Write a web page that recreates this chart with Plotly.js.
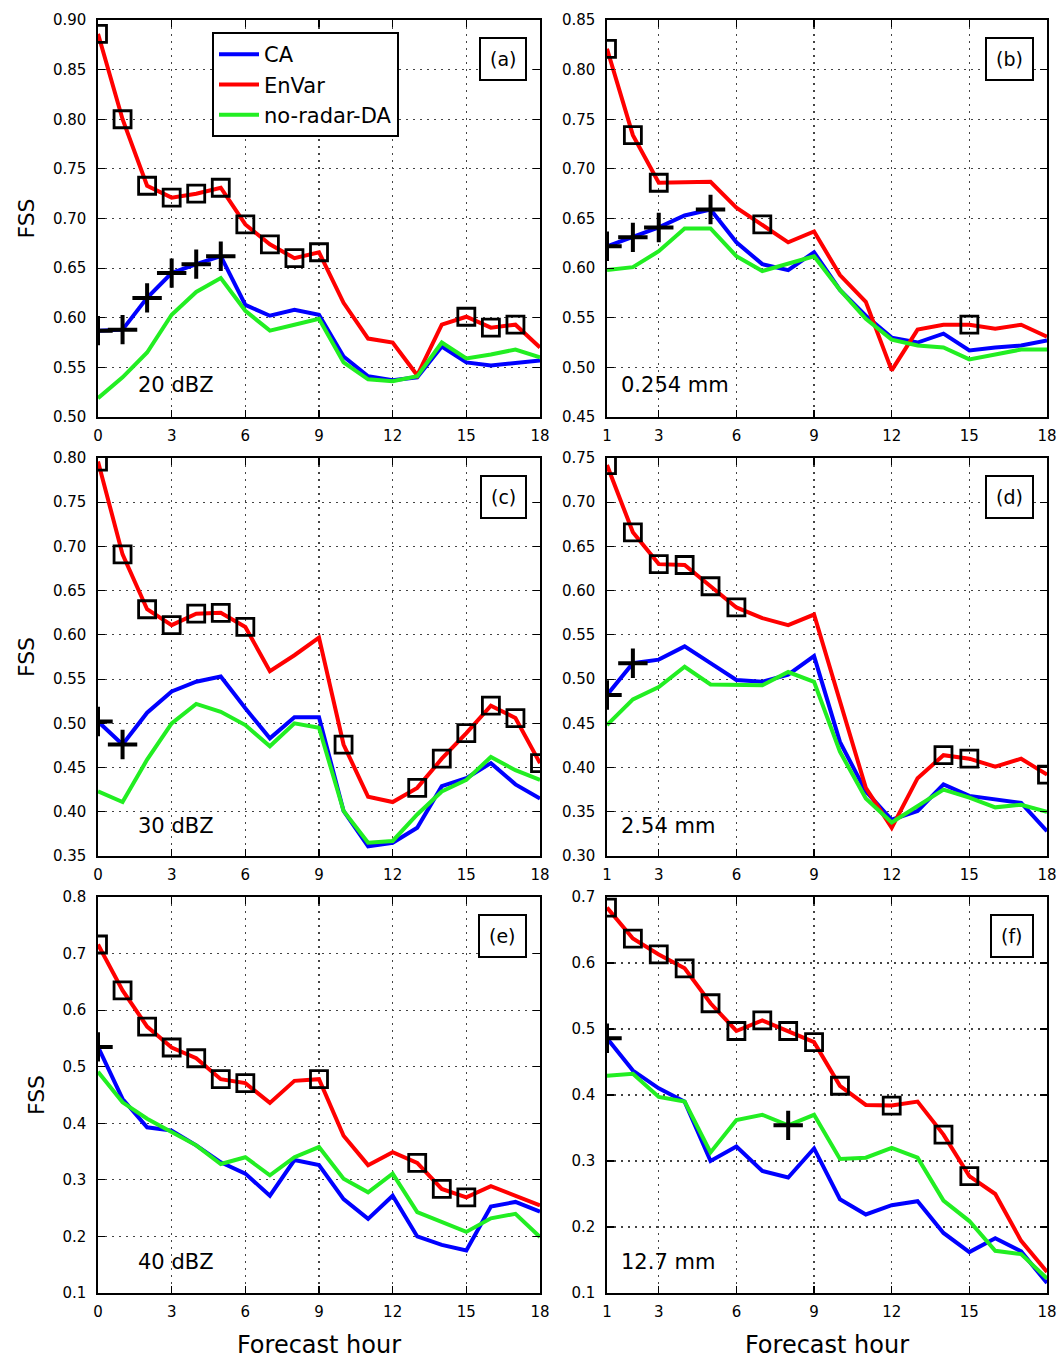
<!DOCTYPE html>
<html>
<head>
<meta charset="utf-8">
<script src="https://cdn.plot.ly/plotly-3.0.1.min.js"></script>
<style>html,body{margin:0;padding:0;background:#fff;}#chart{width:1060px;height:1359px;}</style>
</head>
<body>
<div id="chart"></div>
<script>
// ---------- DATA ----------
const hoursL = [0,1,2,3,4,5,6,7,8,9,10,11,12,13,14,15,16,17,18];
const hoursR = [1,2,3,4,5,6,7,8,9,10,11,12,13,14,15,16,17,18];
const ticksL = [0,3,6,9,12,15,18];
const ticksR = [1,3,6,9,12,15,18];
const seriesNames = ["CA", "EnVar", "no-radar-DA"];
const panelTags = ["(a)", "(b)", "(c)", "(d)", "(e)", "(f)"];
const thresholdLabels = ["20 dBZ", "0.254 mm", "30 dBZ", "2.54 mm", "40 dBZ", "12.7 mm"];

// (a) 20 dBZ
const caA    = [0.587,0.588,0.620,0.645,0.654,0.662,0.613,0.602,0.608,0.603,0.561,0.541,0.537,0.540,0.571,0.555,0.552,0.555,0.557];
const envarA = [0.886,0.800,0.733,0.721,0.725,0.731,0.694,0.674,0.660,0.666,0.615,0.579,0.575,0.542,0.593,0.601,0.590,0.593,0.570];
const noA    = [0.519,0.540,0.565,0.603,0.626,0.640,0.607,0.587,0.593,0.599,0.555,0.538,0.536,0.541,0.575,0.559,0.563,0.568,0.560];
// (b) 0.254 mm
const caB    = [0.622,0.631,0.641,0.653,0.659,0.626,0.604,0.598,0.616,0.578,0.552,0.530,0.525,0.534,0.517,0.520,0.522,0.527];
const envarB = [0.821,0.734,0.686,0.686,0.687,0.661,0.644,0.626,0.637,0.593,0.566,0.497,0.538,0.543,0.543,0.539,0.543,0.531];
const noB    = [0.598,0.601,0.617,0.640,0.640,0.612,0.597,0.605,0.612,0.578,0.549,0.528,0.522,0.520,0.508,0.513,0.518,0.518];
// (c) 30 dBZ
const caC    = [0.502,0.476,0.512,0.536,0.547,0.553,0.517,0.483,0.507,0.507,0.401,0.361,0.365,0.382,0.429,0.438,0.455,0.431,0.415];
const envarC = [0.796,0.691,0.629,0.611,0.624,0.625,0.609,0.559,0.577,0.597,0.476,0.417,0.411,0.427,0.460,0.489,0.520,0.506,0.455];
const noC    = [0.423,0.411,0.459,0.500,0.522,0.513,0.498,0.474,0.500,0.495,0.401,0.365,0.367,0.397,0.423,0.436,0.462,0.447,0.436];
// (d) 2.54 mm
const caD    = [0.482,0.518,0.522,0.537,0.518,0.499,0.497,0.505,0.526,0.429,0.373,0.341,0.351,0.381,0.368,0.364,0.360,0.328];
const envarD = [0.742,0.666,0.630,0.629,0.605,0.581,0.569,0.561,0.573,0.475,0.377,0.332,0.388,0.414,0.410,0.401,0.410,0.392];
const noD    = [0.448,0.477,0.491,0.514,0.494,0.493,0.493,0.508,0.497,0.418,0.365,0.338,0.356,0.375,0.366,0.355,0.358,0.350];
// (e) 40 dBZ
const caE    = [0.535,0.443,0.393,0.387,0.361,0.331,0.311,0.272,0.335,0.326,0.266,0.231,0.272,0.200,0.185,0.175,0.253,0.261,0.244];
const envarE = [0.716,0.635,0.571,0.534,0.515,0.478,0.471,0.436,0.475,0.478,0.378,0.326,0.349,0.330,0.284,0.269,0.289,0.272,0.255];
const noE    = [0.491,0.437,0.408,0.384,0.361,0.328,0.340,0.308,0.340,0.358,0.302,0.278,0.311,0.243,0.225,0.208,0.232,0.240,0.199];
// (f) 12.7 mm
const caF    = [0.486,0.437,0.410,0.390,0.300,0.322,0.285,0.275,0.319,0.242,0.219,0.233,0.239,0.191,0.162,0.183,0.163,0.115];
const envarF = [0.684,0.637,0.613,0.592,0.539,0.497,0.513,0.497,0.480,0.414,0.385,0.384,0.390,0.340,0.277,0.250,0.179,0.132];
const noF    = [0.429,0.432,0.397,0.390,0.313,0.362,0.370,0.354,0.370,0.303,0.305,0.320,0.305,0.240,0.209,0.164,0.159,0.122];

// significance marker hours (squares on EnVar, plus on CA / no-radar-DA)
const sqA = [0,1,2,3,4,5,6,7,8,9,15,16,17];
const sqB = [1,2,3,7,15];
const sqC = [0,1,2,3,4,5,6,10,13,14,15,16,17,18];
const sqD = [1,2,3,4,5,6,14,15,18];
const sqE = [0,1,2,3,4,5,6,9,13,14,15];
const sqF = [1,2,3,4,5,6,7,8,9,10,12,14,15];
const plusCaA = [0,1,2,3,4,5];
const plusCaB = [1,2,3,5];
const plusCaC = [0,1];
const plusCaD = [1,2];
const plusCaE = [0];
const plusCaF = [1];
const plusNoF = [8];

// ---------- BUILD ----------
const W = 1060, H = 1359;
const px = x => x / W;
const py = y => 1 - y / H;
const colors = {CA: "#0000ff", EnVar: "#ff0000", no: "#22ee22"};
const FONT = "DejaVu Sans, Liberation Sans, sans-serif";

const panels = [
  {hours: hoursL, ca: caA, en: envarA, no: noA, sq: sqA, pc: plusCaA, pn: [], yr: [0.50, 0.90], dt: 0.05, fmt: ".2f", col: 0, row: 0},
  {hours: hoursR, ca: caB, en: envarB, no: noB, sq: sqB, pc: plusCaB, pn: [], yr: [0.45, 0.85], dt: 0.05, fmt: ".2f", col: 1, row: 0},
  {hours: hoursL, ca: caC, en: envarC, no: noC, sq: sqC, pc: plusCaC, pn: [], yr: [0.35, 0.80], dt: 0.05, fmt: ".2f", col: 0, row: 1},
  {hours: hoursR, ca: caD, en: envarD, no: noD, sq: sqD, pc: plusCaD, pn: [], yr: [0.30, 0.75], dt: 0.05, fmt: ".2f", col: 1, row: 1},
  {hours: hoursL, ca: caE, en: envarE, no: noE, sq: sqE, pc: plusCaE, pn: [], yr: [0.1, 0.8], dt: 0.1, fmt: ".1f", col: 0, row: 2},
  {hours: hoursR, ca: caF, en: envarF, no: noF, sq: sqF, pc: plusCaF, pn: plusNoF, yr: [0.1, 0.7], dt: 0.1, fmt: ".1f", col: 1, row: 2}
];

const colPx = [[98, 540], [607, 1047]];
const rowPx = [[20, 417], [458, 856], [897, 1293]];
const labelPos = [[136, 385], [619, 385], [136, 826], [619, 826], [136, 1262], [619, 1262]];

const traces = [];
const layout = {
  width: W, height: H,
  margin: {l: 0, r: 0, t: 0, b: 0},
  paper_bgcolor: "#ffffff", plot_bgcolor: "#ffffff",
  font: {family: FONT, color: "#000", size: 15},
  showlegend: true,
  legend: {
    x: px(212), y: py(32), xanchor: "left", yanchor: "top",
    bgcolor: "#ffffff", bordercolor: "#000", borderwidth: 2,
    font: {family: FONT, size: 21, color: "#000"},
    tracegroupgap: 0, itemwidth: 40
  },
  annotations: []
};

function pick(hours, vals, which) {
  return which.map(h => vals[hours.indexOf(h)]);
}

panels.forEach((p, i) => {
  const k = i + 1;
  const xa = k === 1 ? "x" : "x" + k;
  const ya = k === 1 ? "y" : "y" + k;
  const first = i === 0;
  traces.push({x: p.hours, y: p.ca, xaxis: xa, yaxis: ya, mode: "lines", name: seriesNames[0],
    line: {color: colors.CA, width: 4}, showlegend: first, legendgroup: "ca", hoverinfo: "x+y"});
  traces.push({x: p.hours, y: p.en, xaxis: xa, yaxis: ya, mode: "lines", name: seriesNames[1],
    line: {color: colors.EnVar, width: 4}, showlegend: first, legendgroup: "en", hoverinfo: "x+y"});
  traces.push({x: p.hours, y: p.no, xaxis: xa, yaxis: ya, mode: "lines", name: seriesNames[2],
    line: {color: colors.no, width: 4}, showlegend: first, legendgroup: "no", hoverinfo: "x+y"});
  traces.push({x: p.sq, y: pick(p.hours, p.en, p.sq), xaxis: xa, yaxis: ya, mode: "markers", showlegend: false,
    marker: {symbol: "square-open", size: 17, color: "#000", line: {width: 2.8, color: "#000"}}, hoverinfo: "x+y"});
  const pxs = p.pc.concat(p.pn);
  const pys = pick(p.hours, p.ca, p.pc).concat(pick(p.hours, p.no, p.pn));
  traces.push({x: pxs, y: pys, xaxis: xa, yaxis: ya, mode: "markers", showlegend: false,
    marker: {symbol: "cross-thin", size: 21, color: "#000", line: {width: 4, color: "#000"}}, hoverinfo: "x+y"});

  const xr = colPx[p.col], yr = rowPx[p.row];
  const axCommon = {
    showline: true, linecolor: "#000", linewidth: 1.6, mirror: "ticks",
    ticks: "inside", ticklen: 7, tickwidth: 1.2, tickcolor: "#000",
    showgrid: true, gridcolor: "#444", gridwidth: 1.2, griddash: "2px,5px",
    zeroline: false, tickfont: {family: FONT, size: 15, color: "#000"}, fixedrange: true
  };
  layout["xaxis" + (k === 1 ? "" : k)] = Object.assign({}, axCommon, {
    domain: [px(xr[0]), px(xr[1])], anchor: ya,
    range: p.col === 0 ? [0, 18] : [1, 18],
    tickmode: "array", tickvals: p.col === 0 ? ticksL : ticksR,
    ticklabelstandoff: 4
  });
  layout["yaxis" + (k === 1 ? "" : k)] = Object.assign({}, axCommon, {
    domain: [py(yr[1]), py(yr[0])], anchor: xa,
    range: p.yr, dtick: p.dt, tick0: 0, tickformat: p.fmt,
    ticklabelstandoff: 7
  });
  if (p.col === 0) {
    layout["yaxis" + (k === 1 ? "" : k)].title = {text: "FSS", font: {family: FONT, size: 22, color: "#000"}, standoff: 12};
  }
  if (p.row === 2) {
    layout["xaxis" + (k === 1 ? "" : k)].title = {text: "Forecast hour", font: {family: FONT, size: 24, color: "#000"}, standoff: 16};
  }
  layout.annotations.push({
    xref: "paper", yref: "paper", x: px(xr[1] - 13), y: py(yr[0] + 39),
    xanchor: "right", yanchor: "middle", text: panelTags[i], showarrow: false,
    font: {family: FONT, size: 19, color: "#000"}, bgcolor: "#fff",
    bordercolor: "#000", borderwidth: 2, borderpad: 9
  });
  layout.annotations.push({
    xref: "paper", yref: "paper", x: px(labelPos[i][0]), y: py(labelPos[i][1]),
    xanchor: "left", yanchor: "middle", text: thresholdLabels[i], showarrow: false,
    font: {family: FONT, size: 21, color: "#000"}
  });
});

Plotly.newPlot("chart", traces, layout, {staticPlot: true, displayModeBar: false});
</script>
</body>
</html>
